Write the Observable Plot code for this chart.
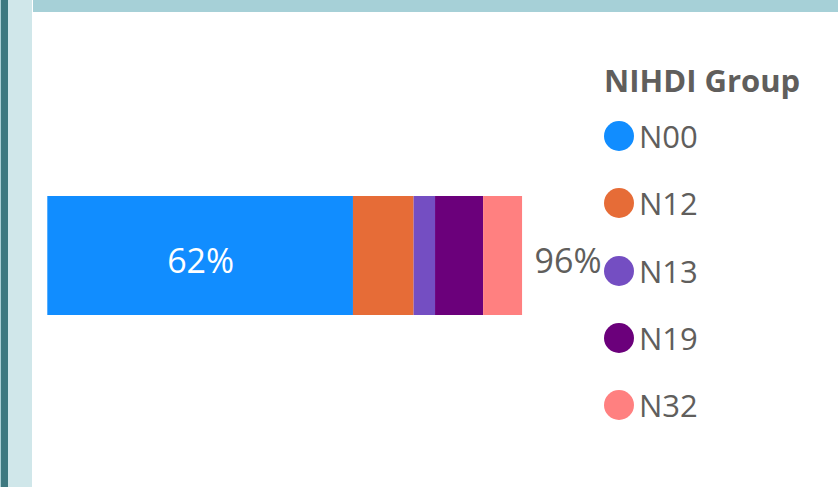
<!DOCTYPE html>
<html>
<head>
<meta charset="utf-8">
<script src="https://cdn.jsdelivr.net/npm/d3@7"></script>
<script src="https://cdn.jsdelivr.net/npm/@observablehq/plot@0.6"></script>
<style>
  html, body { margin: 0; padding: 0; background: #fff; }
  body { width: 838px; height: 487px; position: relative; overflow: hidden; font-family: "Open Sans", sans-serif; }
  .strip0 { position: absolute; left: 0; top: 0; width: 1px; height: 487px; background: #A9CFD4; }
  .strip1 { position: absolute; left: 1px; top: 0; width: 7px; height: 487px; background: #3E7980; }
  .strip2 { position: absolute; left: 8px; top: 0; width: 24px; height: 487px; background: #D0E7EA; }
  .topbar { position: absolute; left: 33px; top: 0; width: 805px; height: 12px; background: #A6D0D7; }
  #chart { position: absolute; left: 0; top: 0; }
  #legend { position: absolute; left: 604px; top: 0; color: #605E5C; }
  #legend .title { position: absolute; left: 0; top: 60px; font-weight: 700; font-size: 31px; white-space: nowrap; line-height: 40px; }
  #legend .item { position: absolute; left: 0; display: flex; align-items: center; height: 40px; white-space: nowrap; }
  #legend .dot { width: 30px; height: 30px; border-radius: 50%; margin-right: 5px; }
  #legend .lab { font-size: 31px; line-height: 40px; }
</style>
</head>
<body>
<div class="strip0"></div><div class="strip1"></div><div class="strip2"></div><div class="topbar"></div>
<div id="chart"></div>
<div id="legend"></div>
<script>
const legendTitle = "NIHDI Group";
const groups = ["N00", "N12", "N13", "N19", "N32"];
const values = [62.0, 12.3, 4.35, 9.75, 7.9];
const colors = ["#118DFF", "#E66C37", "#744EC2", "#6B007B", "#FF8080"];
const category = ["All"];

const data = groups.map((g, i) => ({group: g, value: values[i], cat: category[0]}));
const total = d3.sum(values);

const chart = Plot.plot({
  width: 838,
  height: 487,
  margin: 0,
  x: {domain: [0, 100], range: [47.3, 47.3 + 493], axis: null},
  y: {domain: category, range: [196, 315], padding: 0, axis: null},
  color: {domain: groups, range: colors},
  style: {background: "transparent", fontFamily: "Open Sans, sans-serif"},
  marks: [
    Plot.barX(data, Plot.stackX({x: "value", y: "cat", fill: "group", z: "group", order: groups})),
    Plot.text(data, Plot.stackX({
      x: "value", y: "cat", z: "group", order: groups,
      filter: d => d.group === "N00",
      text: d => Math.round(d.value) + "%",
      fill: "white", fontSize: 34, dy: 6
    })),
    Plot.text([{cat: category[0], total}], {
      x: "total", y: "cat",
      text: d => Math.round(d.total) + "%",
      textAnchor: "start", dx: 12, dy: 6, fill: "#605E5C", fontSize: 34
    })
  ]
});
document.getElementById("chart").appendChild(chart);

const legend = document.getElementById("legend");
const t = document.createElement("div");
t.className = "title";
t.textContent = legendTitle;
legend.appendChild(t);
groups.forEach((g, i) => {
  const it = document.createElement("div");
  it.className = "item";
  it.style.top = (116 + i * 67.3) + "px";
  const dot = document.createElement("div");
  dot.className = "dot";
  dot.style.background = colors[i];
  const lab = document.createElement("span");
  lab.className = "lab";
  lab.textContent = g;
  it.appendChild(dot);
  it.appendChild(lab);
  legend.appendChild(it);
});
</script>
</body>
</html>
